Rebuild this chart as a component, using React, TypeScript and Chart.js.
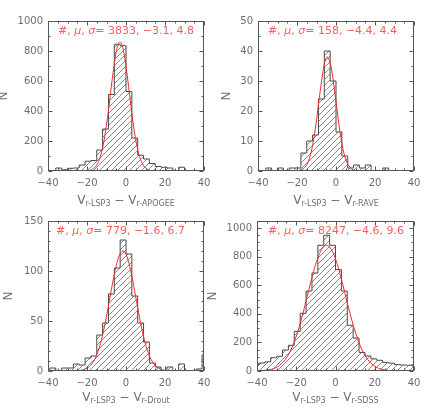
import React, { useEffect, useRef } from 'react';
import { Chart, registerables } from 'chart.js';

Chart.register(...registerables);

// ---------------- data ----------------
const BIN_EDGES = [-42, -39, -36, -33, -30, -27, -24, -21, -18, -15, -12, -9, -6, -3, 0, 3, 6, 9, 12, 15, 18, 21, 24, 27, 30, 33, 36, 39, 42];
const X_TICKS = [-40, -20, 0, 20, 40];
const X_MINOR_STEP = 5;

const APOGEE_COUNTS = [0, 0, 20, 8, 18, 20, 40, 65, 70, 140, 280, 510, 845, 835, 530, 220, 105, 80, 50, 30, 25, 20, 0, 25, 0, 0, 0, 0];
const APOGEE_FIT_X = [-34, -21.1, -19.1, -17.1, -15.1, -13.1, -11.1, -9.1, -7.1, -5.1, -4.1, -3.1, -2.1, -1.1, 0.9, 2.9, 4.9, 6.9, 8.9, 10.9, 12.9, 14.9, 31];
const APOGEE_FIT_Y = [0, 0.8, 3, 12, 38, 98, 214, 394, 608, 789, 842, 860, 842, 789, 608, 394, 214, 98, 38, 12, 3, 0.8, 0];
const APOGEE_Y_TICKS = [0, 200, 400, 600, 800, 1000];
const APOGEE_STATS = [3833, -3.1, 4.8];

const RAVE_COUNTS = [0, 0, 1, 0, 1, 0, 1, 1, 6, 10, 12, 24, 40, 30, 13, 5, 1, 2, 1, 2, 0, 0, 1, 0, 0, 0, 0, 0];
const RAVE_FIT_X = [-36, -20.4, -18.4, -16.4, -14.4, -12.4, -10.4, -8.4, -6.4, -5.4, -4.4, -3.4, -2.4, -0.4, 1.6, 3.6, 5.6, 7.6, 9.6, 11.6, 25];
const RAVE_FIT_Y = [0, 0.05, 0.24, 0.93, 2.87, 7.26, 15.0, 25.2, 34.3, 37.0, 38, 37.0, 34.3, 25.2, 15.0, 7.26, 2.87, 0.93, 0.24, 0.05, 0];
const RAVE_Y_TICKS = [0, 10, 20, 30, 40, 50];
const RAVE_STATS = [158, -4.4, 4.4];

const DROUT_COUNTS = [0, 3, 0, 3, 3, 7, 6, 13, 15, 36, 48, 77, 103, 131, 117, 75, 48, 29, 8, 4, 0, 4, 0, 7, 0, 0, 2, 16];
const DROUT_FIT_X = [-40, -25.6, -23.6, -21.6, -19.6, -17.6, -15.6, -13.6, -11.6, -9.6, -7.6, -5.6, -3.6, -1.6, 0.4, 2.4, 4.4, 6.4, 8.4, 10.4, 12.4, 14.4, 16.4, 18.4, 20.4, 22.4, 40];
const DROUT_FIT_Y = [0, 0.2, 0.5, 1.4, 3.3, 6.9, 13.5, 24.1, 39.4, 58.8, 80.4, 100.4, 114.8, 120, 114.8, 100.4, 80.4, 58.8, 39.4, 24.1, 13.5, 6.9, 3.3, 1.4, 0.5, 0.2, 0];
const DROUT_Y_TICKS = [0, 50, 100, 150];
const DROUT_STATS = [779, -1.6, 6.7];

const SDSS_COUNTS = [50, 56, 64, 93, 103, 147, 180, 277, 404, 560, 686, 880, 950, 880, 710, 560, 320, 230, 130, 105, 85, 75, 60, 55, 45, 42, 40, 35];
const SDSS_FIT_X = [-40, -38.6, -36.6, -34.6, -32.6, -30.6, -28.6, -26.6, -24.6, -22.6, -20.6, -18.6, -16.6, -14.6, -12.6, -10.6, -8.6, -6.6, -4.6, -2.6, -0.6, 1.4, 3.4, 5.4, 7.4, 9.4, 11.4, 13.4, 15.4, 17.4, 19.4, 21.4, 23.4, 25.4, 27.4, 29.4, 31.4, 33.4, 40];
const SDSS_FIT_Y = [1, 1.7, 3.4, 6.7, 12.5, 22, 39, 64, 100, 152, 219, 304, 403, 512, 622, 724, 807, 861, 880, 861, 807, 724, 622, 512, 403, 304, 219, 152, 100, 64, 39, 22, 12.5, 6.7, 3.4, 1.7, 0.8, 0.3, 0];
const SDSS_Y_TICKS = [0, 200, 400, 600, 800, 1000];
const SDSS_STATS = [8247, -4.6, 9.6];

// ---------------- styles ----------------
const FONT = '"DejaVu Sans", "Liberation Sans", sans-serif';
const AXIS_GRAY = '#6e6e6e';
const FRAME = '#555555';
const RED_TEXT = '#ff5d5d';
const RED_LINE = '#ee2b2b';
const OUTLINE = '#4a4a4a';
const HATCH = '#8c8c8c';

Chart.defaults.font.family = FONT;

const fmtNum = (v: number) => (v < 0 ? '\u2212' + String(Math.abs(v)) : String(v));

type Panel = {
  key: string;
  counts: number[];
  fitX: number[];
  fitY: number[];
  yTicks: number[];
  yMax: number;
  yMinorStep: number;
  stats: number[];
  sub: string;
  left: number;
  top: number;
  width: number;
  height: number;
  axisW: number;
  axisH: number;
  padTop: number;
  padRight: number;
  nDx: number;
  xTitleDy: number;
  titleDx: number;
};

const PANELS: Panel[] = [
  {
    key: 'apogee', counts: APOGEE_COUNTS, fitX: APOGEE_FIT_X, fitY: APOGEE_FIT_Y, yTicks: APOGEE_Y_TICKS,
    yMax: 1000, yMinorStep: 100, stats: APOGEE_STATS, sub: 'APOGEE',
    left: 0, top: 0, width: 218, height: 208, axisW: 48, axisH: 37, padTop: 21, padRight: 14, nDx: -44, xTitleDy: 33, titleDx: 10,
  },
  {
    key: 'rave', counts: RAVE_COUNTS, fitX: RAVE_FIT_X, fitY: RAVE_FIT_Y, yTicks: RAVE_Y_TICKS,
    yMax: 50, yMinorStep: 5, stats: RAVE_STATS, sub: 'RAVE',
    left: 200, top: 0, width: 236, height: 208, axisW: 58, axisH: 37, padTop: 21, padRight: 22, nDx: -31, xTitleDy: 33, titleDx: 10,
  },
  {
    key: 'drout', counts: DROUT_COUNTS, fitX: DROUT_FIT_X, fitY: DROUT_FIT_Y, yTicks: DROUT_Y_TICKS,
    yMax: 150, yMinorStep: 10, stats: DROUT_STATS, sub: 'Drout',
    left: 0, top: 208, width: 218, height: 208, axisW: 48, axisH: 45, padTop: 13, padRight: 14, nDx: -39, xTitleDy: 30, titleDx: 8,
  },
  {
    key: 'sdss', counts: SDSS_COUNTS, fitX: SDSS_FIT_X, fitY: SDSS_FIT_Y, yTicks: SDSS_Y_TICKS,
    yMax: 1050, yMinorStep: 50, stats: SDSS_STATS, sub: 'SDSS',
    left: 200, top: 208, width: 236, height: 208, axisW: 57, axisH: 45, padTop: 13, padRight: 22, nDx: -44, xTitleDy: 30, titleDx: 11,
  },
];

function makeHatch(): CanvasPattern | string {
  const c = document.createElement('canvas');
  c.width = 6;
  c.height = 6;
  const g = c.getContext('2d');
  if (!g) return HATCH;
  g.strokeStyle = HATCH;
  g.lineWidth = 1;
  g.beginPath();
  g.moveTo(0, 6);
  g.lineTo(6, 0);
  g.moveTo(-1, 1);
  g.lineTo(1, -1);
  g.moveTo(5, 7);
  g.lineTo(7, 5);
  g.stroke();
  return g.createPattern(c, 'repeat') || HATCH;
}

type Part = { t: string; font: string; dy?: number };

function drawParts(ctx: CanvasRenderingContext2D, parts: Part[], x: number, y: number, center: boolean) {
  let total = 0;
  for (const p of parts) {
    ctx.font = p.font;
    total += ctx.measureText(p.t).width;
  }
  let cx = center ? x - total / 2 : x;
  for (const p of parts) {
    ctx.font = p.font;
    ctx.fillText(p.t, cx, y + (p.dy || 0));
    cx += ctx.measureText(p.t).width;
  }
}

function overlayPlugin(p: Panel) {
  return {
    id: 'overlay-' + p.key,
    afterDatasetsDraw(chart: any) {
      const { ctx, chartArea: a, scales } = chart;
      const xs = scales.x;
      const ys = scales.y;
      ctx.save();
      // frame + inside ticks
      ctx.strokeStyle = FRAME;
      ctx.lineWidth = 1;
      const L = Math.floor(a.left) + 0.5;
      const R = Math.ceil(a.right) - 0.5;
      const T = Math.floor(a.top) + 0.5;
      const B = Math.ceil(a.bottom) - 0.5;
      ctx.strokeRect(L, T, R - L, B - T);
      ctx.beginPath();
      const tickX = (v: number, len: number) => {
        const px = Math.round(xs.getPixelForValue(v)) + 0.5;
        ctx.moveTo(px, B);
        ctx.lineTo(px, B - len);
        ctx.moveTo(px, T);
        ctx.lineTo(px, T + len);
      };
      const tickY = (v: number, len: number) => {
        const py = Math.round(ys.getPixelForValue(v)) + 0.5;
        ctx.moveTo(L, py);
        ctx.lineTo(L + len, py);
        ctx.moveTo(R, py);
        ctx.lineTo(R - len, py);
      };
      X_TICKS.forEach((v) => tickX(v, 4));
      for (let v = X_TICKS[0]; v <= X_TICKS[X_TICKS.length - 1]; v += X_MINOR_STEP) {
        if (!X_TICKS.includes(v)) tickX(v, 2);
      }
      p.yTicks.forEach((v) => tickY(v, 4));
      for (let v = p.yMinorStep; v < p.yMax; v += p.yMinorStep) {
        if (!p.yTicks.includes(v)) tickY(v, 2);
      }
      ctx.stroke();

      // stats title
      ctx.fillStyle = RED_TEXT;
      ctx.textBaseline = 'middle';
      ctx.textAlign = 'left';
      const n = `11px ${FONT}`;
      const it = `italic 11px ${FONT}`;
      const [cnt, mu, sig] = p.stats;
      drawParts(
        ctx,
        [
          { t: '#', font: it },
          { t: ', ', font: n },
          { t: '\u03bc', font: it },
          { t: ', ', font: n },
          { t: '\u03c3', font: it },
          { t: `= ${cnt}, ${fmtNum(mu)}, ${fmtNum(sig)}`, font: n },
        ],
        a.left + p.titleDx,
        a.top + 10,
        false
      );

      // x-axis title
      ctx.fillStyle = AXIS_GRAY;
      ctx.textBaseline = 'alphabetic';
      const big = `12px ${FONT}`;
      const small = `8px ${FONT}`;
      drawParts(
        ctx,
        [
          { t: 'V', font: big },
          { t: 'r-LSP3', font: small, dy: 2 },
          { t: ' \u2212 ', font: big },
          { t: 'V', font: big },
          { t: 'r-' + p.sub, font: small, dy: 2 },
        ],
        (a.left + a.right) / 2,
        a.bottom + p.xTitleDy,
        true
      );

      // y-axis title
      ctx.save();
      ctx.translate(a.left + p.nDx, (a.top + a.bottom) / 2);
      ctx.rotate(-Math.PI / 2);
      ctx.font = big;
      ctx.textAlign = 'center';
      ctx.textBaseline = 'middle';
      ctx.fillText('N', 0, 0);
      ctx.restore();

      ctx.restore();
    },
  };
}

function PanelChart({ p }: { p: Panel }) {
  const ref = useRef<HTMLCanvasElement>(null);
  useEffect(() => {
    const canvas = ref.current;
    if (!canvas) return;
    const hatch = makeHatch();
    const histPts = [
      { x: BIN_EDGES[0], y: 0 },
      ...p.counts.map((c, i) => ({ x: BIN_EDGES[i], y: c })),
      { x: BIN_EDGES[BIN_EDGES.length - 1], y: 0 },
    ];
    const fitPts = p.fitX.map((x, i) => ({ x, y: p.fitY[i] }));
    const tickFont = { family: FONT, size: 10 };
    const chart = new Chart(canvas, {
      type: 'line',
      data: {
        datasets: [
          {
            data: fitPts,
            borderColor: RED_LINE,
            borderWidth: 1,
            pointRadius: 0,
            fill: false,
            cubicInterpolationMode: 'monotone',
          },
          {
            data: histPts,
            borderColor: OUTLINE,
            borderWidth: 1,
            pointRadius: 0,
            stepped: true,
            fill: 'origin',
            backgroundColor: hatch as any,
          },
        ],
      },
      options: {
        animation: false,
        responsive: false,
        maintainAspectRatio: false,
        devicePixelRatio: 1,
        events: [],
        layout: { padding: { left: 0, right: p.padRight, top: p.padTop, bottom: 0 } },
        plugins: { legend: { display: false }, tooltip: { enabled: false }, title: { display: false } },
        scales: {
          x: {
            type: 'linear',
            min: -40,
            max: 40,
            grid: { display: false, drawTicks: false },
            border: { display: false },
            ticks: {
              font: tickFont,
              color: AXIS_GRAY,
              padding: 6,
              maxRotation: 0,
              autoSkip: false,
              callback: (v: any) => fmtNum(Number(v)),
            },
            afterBuildTicks: (s: any) => {
              s.ticks = X_TICKS.map((v) => ({ value: v }));
            },
            afterFit: (s: any) => {
              s.height = p.axisH;
              s.paddingLeft = 0;
              s.paddingRight = 0;
            },
          },
          y: {
            type: 'linear',
            min: 0,
            max: p.yMax,
            grid: { display: false, drawTicks: false },
            border: { display: false },
            ticks: {
              font: tickFont,
              color: AXIS_GRAY,
              padding: 5,
              autoSkip: false,
              callback: (v: any) => fmtNum(Number(v)),
            },
            afterBuildTicks: (s: any) => {
              s.ticks = p.yTicks.map((v) => ({ value: v }));
            },
            afterFit: (s: any) => {
              s.width = p.axisW;
              s.paddingTop = 0;
              s.paddingBottom = 0;
            },
          },
        },
      } as any,
      plugins: [overlayPlugin(p)],
    });
    return () => chart.destroy();
  }, [p]);
  return (
    <canvas
      ref={ref}
      width={p.width}
      height={p.height}
      style={{ position: 'absolute', left: p.left, top: p.top, width: p.width, height: p.height, display: 'block' }}
    />
  );
}

export default function App() {
  return (
    <div style={{ position: 'absolute', left: 0, top: 0, width: 436, height: 416, background: '#ffffff', overflow: 'hidden' }}>
      {PANELS.map((p) => (
        <PanelChart key={p.key} p={p} />
      ))}
    </div>
  );
}
